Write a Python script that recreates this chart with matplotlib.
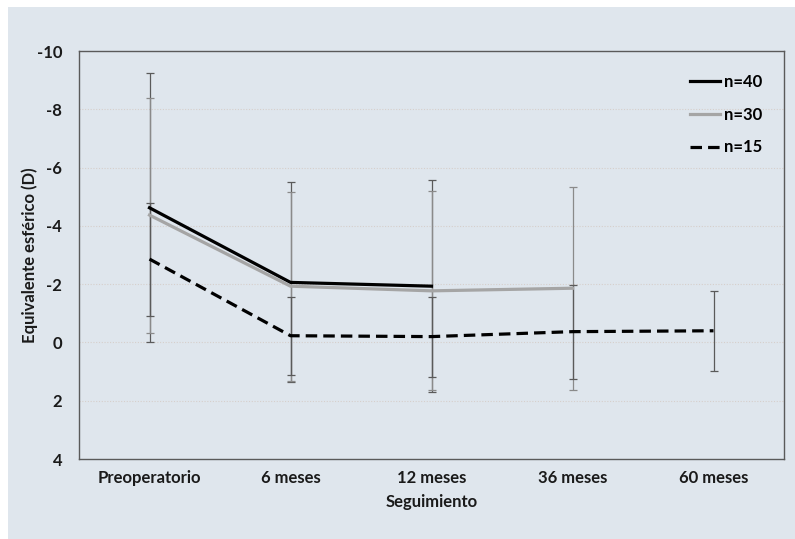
import matplotlib
matplotlib.use("Agg")
import matplotlib.pyplot as plt
import numpy as np
from matplotlib.patches import Rectangle

plt.rcParams['font.family'] = ['Lato', 'DejaVu Sans']
plt.rcParams['font.weight'] = 'bold'

categories = ["Preoperatorio", "6 meses", "12 meses", "36 meses", "60 meses"]

n40_mean = [-4.62, -2.06, -1.93]
n40_sd = [4.62, 3.43, 3.64]

n30_mean = [-4.37, -1.93, -1.77, -1.86]
n30_sd = [4.03, 3.24, 3.41, 3.48]

n15_mean = [-2.86, -0.23, -0.20, -0.37, -0.40]
n15_sd = [1.94, 1.34, 1.37, 1.61, 1.37]

y_ticks = [-10, -8, -6, -4, -2, 0, 2, 4]

bg = '#dfe6ed'
fs = 12
fig = plt.figure(figsize=(7.95, 5.39), dpi=100, facecolor='white')
fig.patches.append(Rectangle((8 / 795, 0), 1 - 8 / 795, 1 - 7 / 539,
                             transform=fig.transFigure, facecolor=bg,
                             edgecolor='none', zorder=-10))
ax = fig.add_axes([79 / 795, 1 - 459 / 539, 705 / 795, 408 / 539])
ax.set_facecolor(bg)

x = np.arange(len(categories)) + 0.5

series = [
    (n40_mean, n40_sd, 'n=40', dict(color='black', lw=2.3), '#5a5a5a'),
    (n30_mean, n30_sd, 'n=30', dict(color='#a5a5a5', lw=2.3), '#8a8a8a'),
    (n15_mean, n15_sd, 'n=15', dict(color='black', lw=2.3, dashes=(3.6, 1.9)), '#5a5a5a'),
]
handles = []
for mean, sd, label, style, ecol in series:
    xs = x[:len(mean)]
    ax.errorbar(xs, mean, yerr=sd, fmt='none', ecolor=ecol, elinewidth=0.9,
                capsize=3, capthick=0.9, zorder=2)
    h, = ax.plot(xs, mean, label=label, zorder=3, **style)
    handles.append(h)

ax.set_xlim(0, len(categories))
ax.set_ylim(4, -10)
ax.set_yticks(y_ticks)
ax.set_yticklabels([str(v) for v in y_ticks])
ax.set_xticks(x)
ax.set_xticklabels(categories)
ax.tick_params(axis='both', length=0, labelsize=fs, colors='#1a1a1a')
ax.tick_params(axis='y', pad=12)
ax.tick_params(axis='x', pad=8)

for v in y_ticks[1:-1]:
    ax.axhline(v, color='#d6cfcb', lw=0.8, ls=(0, (1, 1.5)), zorder=1)

for s in ax.spines.values():
    s.set_color('#5a5a5a')
    s.set_linewidth(1.0)

ax.set_xlabel('Seguimiento', fontsize=fs, fontweight='bold', color='#1a1a1a')
ax.set_ylabel('Equivalente esférico (D)', fontsize=fs, fontweight='bold', color='#1a1a1a')
ax.xaxis.set_label_coords(0.5, -(502 - 459) / 408)
ax.xaxis.label.set_va('center')
ax.yaxis.set_label_coords(-(79 - 30) / 705, 0.5)
ax.yaxis.label.set_va('center')

leg = ax.legend(handles=handles, loc='upper right', bbox_to_anchor=(0.99, 0.98),
                frameon=False, handlelength=1.8, handletextpad=0.2,
                labelspacing=1.0, prop={'weight': 'bold', 'size': fs})

fig.savefig('out.png', dpi=100, facecolor=fig.get_facecolor())
